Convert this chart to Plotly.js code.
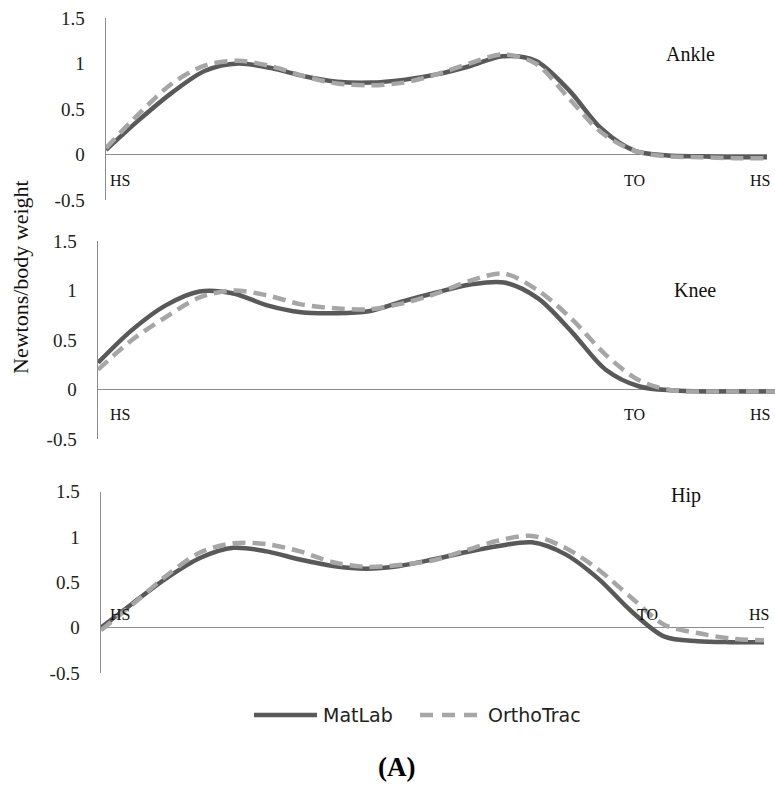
<!DOCTYPE html>
<html>
<head>
<meta charset="utf-8">
<script src="https://cdn.plot.ly/plotly-3.0.1.min.js"></script>
<style>html,body{margin:0;padding:0;background:#fff;}#chart{width:775px;height:785px;}</style>
</head>
<body>
<div id="chart"></div>
<script>
// Gait cycle (%)
const gaitPct = [0,5,10,15,20,25,30,35,40,45,50,55,60,65,70,75,80,85,90,95,100];

const ankleMatLab    = [0.05,0.38,0.68,0.92,1.00,0.95,0.86,0.80,0.79,0.82,0.88,0.97,1.08,1.03,0.71,0.28,0.04,-0.01,-0.02,-0.03,-0.03];
const ankleOrthoTrac = [0.07,0.45,0.78,0.98,1.03,0.97,0.86,0.78,0.76,0.79,0.88,1.00,1.10,1.00,0.62,0.24,0.04,-0.02,-0.03,-0.04,-0.04];

const kneeMatLab     = [0.27,0.60,0.85,0.99,0.97,0.85,0.78,0.77,0.79,0.89,0.98,1.06,1.08,0.92,0.58,0.20,0.03,-0.01,-0.02,-0.02,-0.02];
const kneeOrthoTrac  = [0.20,0.50,0.73,0.93,1.00,0.95,0.86,0.82,0.81,0.87,0.97,1.10,1.17,1.00,0.71,0.35,0.09,-0.01,-0.02,-0.02,-0.02];

const hipMatLab      = [0.00,0.28,0.55,0.77,0.88,0.84,0.75,0.68,0.65,0.68,0.75,0.83,0.90,0.94,0.81,0.54,0.18,-0.10,-0.15,-0.16,-0.16];
const hipOrthoTrac   = [-0.03,0.27,0.58,0.83,0.93,0.92,0.84,0.72,0.67,0.69,0.74,0.85,0.96,1.01,0.88,0.64,0.33,0.03,-0.06,-0.12,-0.14];

const seriesNames = ["MatLab","OrthoTrac"];
const panelNames = ["Ankle","Knee","Hip"];
const yTickVals = [-0.5,0,0.5,1,1.5];
const yTickText = ["-0.5","0","0.5","1","1.5"];
const eventLabels = ["HS","TO","HS"];

const W = 775, H = 785;
const fx = p => p / W;
const fy = p => 1 - p / H;
const SERIF = 'Liberation Serif, Times New Roman, serif';

const solidStyle = {color:'#595959', width:4.5};
const dashStyle = {color:'#a6a6a6', width:4.5, dash:'13px,7px'};

const panels = [
  {name:panelNames[0], m:ankleMatLab, o:ankleOrthoTrac, xd:[106,767], yd:[18,200]},
  {name:panelNames[1], m:kneeMatLab,  o:kneeOrthoTrac,  xd:[98,775],  yd:[241,439]},
  {name:panelNames[2], m:hipMatLab,   o:hipOrthoTrac,   xd:[101,764], yd:[491.5,673]}
];

const data = [];
const layout = {
  width:W, height:H,
  margin:{l:0,r:0,t:0,b:0},
  paper_bgcolor:'#fff', plot_bgcolor:'rgba(0,0,0,0)',
  showlegend:false,
  annotations:[], shapes:[],
  font:{family:SERIF, color:'#111'}
};

// label positions per panel (data coords)
const evX = [[2.1,80,98.9],[3.3,79.2,97.8],[2.9,82.4,99.3]];
const evY = [-0.29,-0.25,0.15];
const nameX = [88.5,88.2,88.3];
const nameY = [1.10,1.0,1.46];

panels.forEach((p,i) => {
  const sfx = i===0 ? '' : String(i+1);
  const xa = 'x'+sfx, ya = 'y'+sfx;
  data.push({x:gaitPct, y:p.m, xaxis:xa, yaxis:ya, type:'scatter', mode:'lines',
             name:seriesNames[0], line:Object.assign({shape:'spline', smoothing:0.9}, solidStyle), hoverinfo:'skip'});
  data.push({x:gaitPct, y:p.o, xaxis:xa, yaxis:ya, type:'scatter', mode:'lines',
             name:seriesNames[1], line:Object.assign({shape:'spline', smoothing:0.9}, dashStyle), hoverinfo:'skip'});
  layout['xaxis'+sfx] = {domain:[fx(p.xd[0]), fx(p.xd[1])], range:[0,100], anchor:ya,
                         showline:false, showgrid:false, zeroline:false, showticklabels:false, ticks:'', fixedrange:true};
  layout['yaxis'+sfx] = {domain:[fy(p.yd[1]), fy(p.yd[0])], range:[-0.5,1.5], anchor:xa,
                         tickvals:yTickVals, ticktext:yTickText, ticks:'', ticklabelstandoff:16,
                         showline:true, linecolor:'#8c8c8c', linewidth:1.5,
                         zeroline:true, zerolinecolor:'#8c8c8c', zerolinewidth:1.5,
                         showgrid:false, fixedrange:true,
                         tickfont:{family:SERIF, size:19, color:'#222'}};
  eventLabels.forEach((t,k) => {
    layout.annotations.push({text:t, x:evX[i][k], y:evY[i], xref:xa, yref:ya, showarrow:false,
      xanchor:'center', yanchor:'middle', font:{family:SERIF, size:16, color:'#111'}});
  });
  layout.annotations.push({text:p.name, x:nameX[i], y:nameY[i], xref:xa, yref:ya, showarrow:false,
      xanchor:'center', yanchor:'middle', font:{family:SERIF, size:20, color:'#111'}});
});

// Legend (drawn as legend keys in paper coordinates)
const legY = fy(715);
layout.shapes.push({type:'line', xref:'paper', yref:'paper', x0:fx(254), x1:fx(317), y0:legY, y1:legY,
  line:{color:solidStyle.color, width:solidStyle.width}});
layout.shapes.push({type:'line', xref:'paper', yref:'paper', x0:fx(420), x1:fx(478), y0:legY, y1:legY,
  line:{color:dashStyle.color, width:dashStyle.width, dash:'13px,9px'}});
layout.annotations.push({text:seriesNames[0], x:fx(321), y:legY, xref:'paper', yref:'paper', showarrow:false,
  xanchor:'left', yanchor:'middle', font:{family:'DejaVu Sans', size:19, color:'#222'}});
layout.annotations.push({text:seriesNames[1], x:fx(486), y:legY, xref:'paper', yref:'paper', showarrow:false,
  xanchor:'left', yanchor:'middle', font:{family:'DejaVu Sans', size:19, color:'#222'}});

layout.annotations.push({text:'Newtons/body weight', x:fx(21), y:fy(277), xref:'paper', yref:'paper',
  showarrow:false, textangle:-90, xanchor:'center', yanchor:'middle',
  font:{family:SERIF, size:22, color:'#111'}});
layout.annotations.push({text:'<b>(A)</b>', x:fx(396), y:fy(767), xref:'paper', yref:'paper',
  showarrow:false, xanchor:'center', yanchor:'middle',
  font:{family:SERIF, size:27, color:'#000'}});

Plotly.newPlot('chart', data, layout, {staticPlot:true, displayModeBar:false});
</script>
</body>
</html>
